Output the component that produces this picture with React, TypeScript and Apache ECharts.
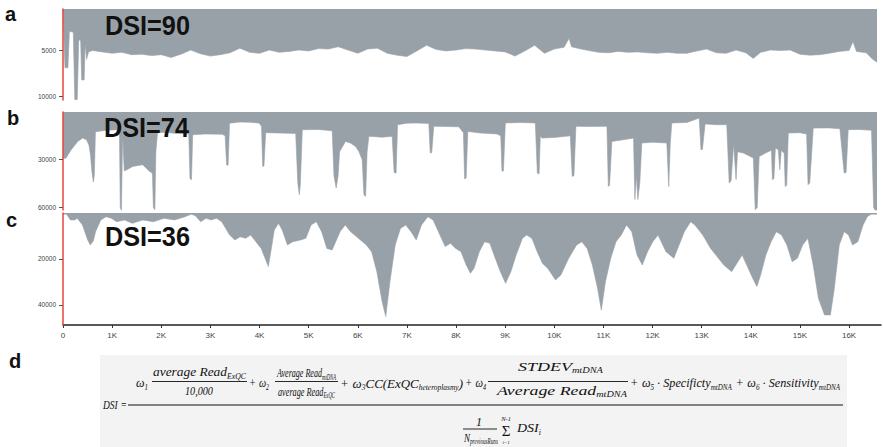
import React, { useEffect, useRef } from 'react';
import * as echarts from 'echarts';

// ---------------- data ----------------
const xTickValues = [0, 1000, 2000, 3000, 4000, 5000, 6000, 7000, 8000, 9000, 10000, 11000, 12000, 13000, 14000, 15000, 16000];
const yTicksA = [5000, 10000];
const yTicksB = [30000, 60000];
const yTicksC = [20000, 40000];
const panelLetters = ['a', 'b', 'c', 'd'];
const dsiLabels = ['DSI=90', 'DSI=74', 'DSI=36'];

// panel a : coverage (bp position -> reads)
const posA = [
  0, 40, 100, 130, 210, 240, 290, 320, 360, 380,
  430, 450, 480, 520, 600, 800, 1000, 1200, 1400, 1600,
  1800, 2000, 2200, 2400, 2600, 2800, 3000, 3200, 3400, 3600,
  3800, 4000, 4200, 4400, 4600, 4800, 5000, 5200, 5400, 5600,
  5800, 6000, 6200, 6400, 6600, 6800, 7000, 7200, 7400, 7600,
  7800, 8000, 8200, 8400, 8600, 8800, 9000, 9200, 9400, 9600,
  9800, 10000, 10200, 10300, 10350, 10500, 10700, 10900, 11100, 11300,
  11500, 11700, 11900, 12100, 12300, 12500, 12700, 12900, 13100, 13300,
  13500, 13700, 13900, 14050, 14200, 14400, 14600, 14800, 15000, 15200,
  15400, 15600, 15800, 16000, 16080, 16150, 16350, 16480, 16569,
];
const covA = [
  700, 6900, 6900, 3000, 3100, 10300, 10300, 3900, 4000, 8200,
  8200, 4300, 6000, 5200, 5050, 5200, 5350, 5250, 5500, 5450,
  5600, 5500, 5800, 5450, 5000, 5400, 5650, 5500, 5300, 4800,
  5250, 5350, 5000, 5250, 5150, 5000, 5100, 4850, 4900, 4650,
  5000, 5350, 4900, 4800, 5350, 5550, 5700, 5100, 4500, 4950,
  5100, 5000, 4850, 4900, 5000, 5100, 5200, 5650, 5100, 4500,
  5350, 4900, 4700, 3750, 4650, 4850, 5050, 5250, 5300, 5150,
  5250, 5200, 5300, 5350, 5250, 5350, 5350, 5100, 4900, 5300,
  5350, 5000, 5300, 5900, 5250, 5000, 5050, 5000, 5450, 5550,
  5500, 5350, 5150, 5050, 4100, 5150, 5300, 6000, 6300,
];

// panel b
const posB = [
  0, 60, 160, 300, 400, 480, 530, 560, 590, 617,
  637, 660, 700, 900, 1100, 1150, 1165, 1190, 1213, 1247,
  1300, 1420, 1620, 1760, 1820, 1840, 1870, 1890, 1924, 2100,
  2300, 2560, 2585, 2615, 2640, 2900, 3245, 3300, 3330, 3360,
  3390, 3600, 3800, 3990, 4040, 4065, 4090, 4126, 4400, 4736,
  4780, 4810, 4830, 4871, 5200, 5480, 5515, 5560, 5600, 5630,
  5750, 5850, 5950, 6020, 6090, 6125, 6160, 6190, 6226, 6500,
  6700, 6740, 6780, 6810, 7000, 7200, 7446, 7475, 7505, 7547,
  7800, 8056, 8150, 8175, 8205, 8240, 8500, 8835, 8910, 8935,
  8965, 9004, 9300, 9614, 9655, 9690, 9716, 9750, 10000, 10326,
  10365, 10400, 10440, 10700, 11071, 11100, 11125, 11172, 11400, 11613,
  11640, 11670, 11700, 11740, 11782, 12000, 12290, 12330, 12360, 12392,
  12700, 12950, 12985, 13015, 13069, 13300, 13510, 13560, 13600, 13650,
  13700, 13730, 13850, 14052, 14090, 14130, 14170, 14300, 14420, 14440,
  14470, 14500, 14560, 14590, 14620, 14680, 14700, 14730, 14763, 15000,
  15136, 15165, 15200, 15271, 15600, 15813, 15900, 15940, 15983, 16200,
  16457, 16500, 16540, 16569,
];
const covB = [
  29000, 29000, 24000, 18500, 16400, 17500, 21000, 27000, 38000, 44000,
  40000, 12500, 12200, 11500, 11200, 14000, 60000, 62000, 14000, 37000,
  36300, 34200, 33100, 37300, 38500, 60000, 61400, 25000, 13000, 12800,
  13500, 13800, 42000, 42500, 14300, 13800, 14000, 15000, 33100, 33500,
  7000, 6300, 6500, 6900, 9000, 34200, 34000, 13000, 13200, 13500,
  45000, 52000, 46000, 11200, 11000, 11800, 40000, 47800, 40000, 25000,
  18500, 19500, 21600, 24700, 30000, 52000, 53000, 25000, 15300, 15800,
  15300, 38000, 38400, 8000, 7000, 6900, 7200, 25800, 25500, 9000,
  9100, 9300, 13000, 42000, 41500, 12200, 13200, 13800, 15000, 37300,
  37000, 6900, 6600, 6900, 38400, 39000, 15000, 16400, 16000, 15000,
  40500, 40000, 9000, 9100, 9000, 46800, 46000, 18500, 17500, 16400,
  55000, 40000, 55000, 45000, 19500, 19000, 19500, 46800, 20000, 6900,
  6600, 3800, 23700, 23500, 7500, 8000, 8000, 44700, 43000, 20000,
  42500, 25000, 25800, 28950, 61400, 60000, 28000, 25800, 24000, 42500,
  42000, 22600, 23700, 36300, 24000, 26000, 46800, 46000, 13200, 13000,
  13800, 45700, 44500, 10100, 10000, 10500, 38400, 38000, 11100, 11000,
  11500, 60000, 62400, 62400,
];

// panel c
const posC = [
  0, 75, 150, 240, 290, 396, 503, 556, 620, 663,
  770, 877, 984, 1091, 1252, 1412, 1626, 1840, 2054, 2268,
  2482, 2610, 2696, 2803, 2910, 3017, 3124, 3231, 3392, 3499,
  3606, 3713, 3820, 3927, 4034, 4180, 4230, 4301, 4387, 4462,
  4569, 4676, 4836, 4943, 5050, 5157, 5264, 5371, 5478, 5639,
  5746, 5853, 6013, 6174, 6281, 6388, 6495, 6570, 6655, 6762,
  6869, 6976, 7083, 7190, 7297, 7426, 7533, 7672, 7779, 7886,
  7993, 8100, 8207, 8293, 8367, 8474, 8581, 8688, 8774, 8902,
  9009, 9116, 9223, 9352, 9437, 9544, 9651, 9758, 9865, 10026,
  10133, 10293, 10454, 10561, 10668, 10775, 10882, 10957, 11042, 11149,
  11256, 11363, 11470, 11577, 11684, 11791, 11898, 12005, 12112, 12273,
  12433, 12540, 12647, 12776, 12861, 13022, 13182, 13289, 13450, 13610,
  13717, 13824, 13931, 14038, 14124, 14199, 14306, 14413, 14520, 14627,
  14734, 14841, 14948, 15055, 15162, 15269, 15376, 15500, 15620, 15700,
  15800, 15900, 15990, 16071, 16178, 16285, 16371, 16446, 16569,
];
const covC = [
  500, 500, 3000, 3000, 2300, 5200, 11700, 13900, 12000, 8100,
  3000, 1600, 2300, 3800, 3000, 4500, 3000, 3800, 2300, 3000,
  1600, 500, 1200, 3800, 2300, 3000, 2300, 3800, 9600, 11700,
  10300, 11000, 9600, 12500, 15400, 23300, 16800, 7400, 4500, 7400,
  13900, 12500, 11700, 11000, 5200, 3800, 8100, 15400, 16100, 8100,
  5200, 8100, 11000, 13900, 16800, 25500, 38500, 45000, 29800, 13900,
  6700, 5200, 8100, 11700, 5200, 1600, 3000, 9600, 14600, 13200,
  15400, 16800, 22600, 26200, 24000, 16800, 12500, 13200, 18300, 25500,
  30600, 25500, 18300, 11000, 9600, 11000, 16800, 21900, 24000, 29100,
  27000, 19700, 13900, 12500, 15400, 22600, 32800, 42200, 29800, 19700,
  12500, 9600, 5200, 8100, 18300, 22600, 16800, 12500, 9600, 16800,
  19700, 13900, 8100, 3800, 5200, 9600, 15400, 18300, 22600, 25500,
  21900, 18300, 23300, 28400, 32000, 27000, 18300, 12500, 8100, 9600,
  13900, 21200, 19700, 13900, 11000, 22600, 37100, 44300, 44300, 32800,
  13900, 8100, 9600, 13900, 12500, 5200, 1600, 500, 500,
];

// ---------------- styles ----------------
const GRAY = '#99a1a8';
const RED = '#e8453c';
const SERIF = '"Liberation Serif", "Times New Roman", serif';
const SANS = '"Liberation Sans", Arial, sans-serif';
const NARROW = '"Liberation Sans Narrow", "Liberation Sans", Arial, sans-serif';

type Part = { t?: string; sub?: boolean; gap?: number };

export default function App() {
  const ref = useRef<HTMLDivElement>(null);

  useEffect(() => {
    const el = ref.current;
    if (!el) return;
    const chart = echarts.init(el, null, { renderer: 'svg' });

    const canvas = document.createElement('canvas');
    const ctx = canvas.getContext('2d') as CanvasRenderingContext2D;
    const measure = (text: string, font: string) => {
      ctx.font = font;
      return ctx.measureText(text).width;
    };

    const textEl = (x: number, y: number, text: string, o: any) => ({
      type: 'text',
      x,
      y,
      z: 20,
      scaleX: o.scaleX ?? 1,
      style: {
        text,
        fontSize: o.size,
        fontFamily: o.family,
        fontStyle: o.italic ? 'italic' : 'normal',
        fontWeight: o.bold ? 'bold' : 'normal',
        fill: o.fill ?? '#111',
        align: o.align ?? 'left',
        verticalAlign: 'middle',
        textAlign: o.align ?? 'left',
        textVerticalAlign: 'middle',
      },
    });

    // formula row fitted into [x0, x1]
    const MAIN = 13;
    const SUB = 7.5;
    const row = (parts: Part[], x0: number, x1: number, y: number) => {
      const items = parts.map((p) => {
        if (p.gap != null) return { p, w: p.gap * MAIN, fs: MAIN };
        const fs = p.sub ? SUB : MAIN;
        return { p, fs, w: measure(p.t as string, `italic ${fs}px ${SERIF}`) };
      });
      const total = items.reduce((s, it) => s + it.w, 0);
      const sx = (x1 - x0) / total;
      let cx = x0;
      const out: any[] = [];
      items.forEach((it) => {
        if (it.p.t) {
          out.push(textEl(cx, y + (it.p.sub ? 4.5 : 0), it.p.t, { size: it.fs, family: SERIF, italic: true, scaleX: sx }));
        }
        cx += it.w * sx;
      });
      return out;
    };
    const hline = (x1: number, x2: number, y: number, w = 0.9) => ({
      type: 'line',
      z: 20,
      shape: { x1, y1: y, x2, y2: y },
      style: { stroke: '#111', lineWidth: w },
    });

    const formula: any[] = [
      { type: 'rect', z: 1, shape: { x: 100, y: 355, width: 747, height: 95 }, style: { fill: '#f3f3f3' } },
      ...row([{ t: 'DSI' }, { gap: 0.3 }, { t: '=' }], 103, 127, 404),
      ...row([{ t: 'ω' }, { t: '1', sub: true }], 136, 148, 383),
      ...row([{ t: 'average Read' }, { t: 'ExQC', sub: true }], 153, 246, 372),
      ...row([{ t: '10,000' }], 185, 213, 391),
      hline(152, 247, 381.5),
      ...row([{ t: '+' }, { gap: 0.3 }, { t: 'ω' }, { t: '2', sub: true }], 249, 269, 383),
      ...row([{ t: 'Average Read' }, { t: 'mtDNA', sub: true }], 277, 336, 372),
      ...row([{ t: 'average Read' }, { t: 'ExQC', sub: true }], 278, 335, 391),
      hline(275, 338, 381.5),
      ...row([{ t: '+' }, { gap: 0.3 }, { t: 'ω' }, { t: '3', sub: true }, { t: 'CC(ExQC' }, { t: 'heteroplasmy', sub: true }, { t: ')' }], 340, 463, 383),
      ...row([{ t: '+' }, { gap: 0.3 }, { t: 'ω' }, { t: '4', sub: true }], 465, 486, 383),
      ...row([{ t: 'STDEV' }, { t: 'mtDNA', sub: true }], 518, 603, 366),
      ...row([{ t: 'Average Read' }, { t: 'mtDNA', sub: true }], 497, 627, 390),
      hline(488, 628, 381.5),
      ...row([
        { t: '+' }, { gap: 0.3 }, { t: 'ω' }, { t: '5', sub: true }, { gap: 0.25 }, { t: '·' }, { gap: 0.25 },
        { t: 'Specificty' }, { t: 'mtDNA', sub: true }, { gap: 0.3 },
        { t: '+' }, { gap: 0.3 }, { t: 'ω' }, { t: '6', sub: true }, { gap: 0.25 }, { t: '·' }, { gap: 0.25 },
        { t: 'Sensitivity' }, { t: 'mtDNA', sub: true },
      ], 630, 840, 383),
      hline(128, 843, 405, 1.1),
      ...row([{ t: '1' }], 476, 482, 422),
      hline(463, 497, 429),
      ...row([{ t: 'N' }, { t: 'previousRuns', sub: true }], 464, 498, 437),
      textEl(506, 431, 'Σ', { size: 15, family: SERIF, align: 'center' }),
      textEl(506, 418, 'N-1', { size: 6.5, family: SERIF, italic: true, align: 'center' }),
      textEl(506, 442, 'i=1', { size: 5, family: SERIF, italic: true, align: 'center' }),
      ...row([{ t: 'DSI' }, { t: 'i', sub: true }], 517, 541, 428),
    ];

    const letterPos = [[5, 14], [7, 118], [6, 220], [9, 361]];
    const letters = panelLetters.map((l, i) =>
      textEl(letterPos[i][0], letterPos[i][1], l, { size: 20, family: SANS, bold: true })
    );

    const dsiPos = [[105, 25.5], [104, 128], [105, 237]];
    const dsi = dsiLabels.map((t, i) => {
      const w = measure(t, `bold 28px ${NARROW}`);
      return textEl(dsiPos[i][0], dsiPos[i][1], t, { size: 28, family: NARROW, bold: true, scaleX: 85 / w });
    });

    const grids = [
      { left: 63, width: 818, top: 9, height: 91 },
      { left: 63, width: 818, top: 112, height: 98 },
      { left: 63, width: 818, top: 213, height: 112 },
    ];
    const yRanges = [[610, 10350], [0, 61600], [0, 48700]];
    const yTicks = [yTicksA, yTicksB, yTicksC];
    const panels: [number[], number[]][] = [[posA, covA], [posB, covB], [posC, covC]];

    const option: any = {
      animation: false,
      backgroundColor: '#ffffff',
      grid: grids,
      xAxis: grids.map((_, i) => ({
        type: 'value',
        gridIndex: i,
        min: 0,
        max: 16650,
        show: i === 2,
        axisLine: { show: true, onZero: false, lineStyle: { color: '#222', width: 1.5 } },
        axisTick: { show: true, customValues: xTickValues, length: 3, lineStyle: { color: '#333' } },
        axisLabel: {
          customValues: xTickValues,
          formatter: (v: number) => (v === 0 ? '0' : `${v / 1000}K`),
          fontSize: 8,
          color: '#444',
          margin: 6,
          fontFamily: NARROW,
        },
        splitLine: { show: false },
      })),
      yAxis: grids.map((_, i) => ({
        type: 'value',
        gridIndex: i,
        inverse: true,
        min: yRanges[i][0],
        max: yRanges[i][1],
        z: 6,
        axisLine: { show: true, onZero: false, lineStyle: { color: RED, width: 1.5 } },
        axisTick: { show: true, customValues: yTicks[i], length: 4, lineStyle: { color: '#555' } },
        axisLabel: {
          customValues: yTicks[i],
          formatter: (v: number) => String(v),
          fontSize: 6.5,
          color: '#444',
          margin: 7,
          fontFamily: NARROW,
        },
        splitLine: { show: false },
      })),
      series: panels.map(([pos, cov], i) => ({
        type: 'line',
        xAxisIndex: i,
        yAxisIndex: i,
        data: pos.map((p, j) => [p, cov[j]]),
        symbol: 'none',
        showSymbol: false,
        silent: true,
        lineStyle: { color: GRAY, width: 0.6 },
        areaStyle: { color: GRAY, opacity: 1, origin: 'start' },
      })),
      graphic: { elements: [...formula, ...letters, ...dsi] },
    };

    chart.setOption(option);
    return () => chart.dispose();
  }, []);

  return <div ref={ref} style={{ position: 'absolute', left: 0, top: 0, width: 883, height: 447 }} />;
}
